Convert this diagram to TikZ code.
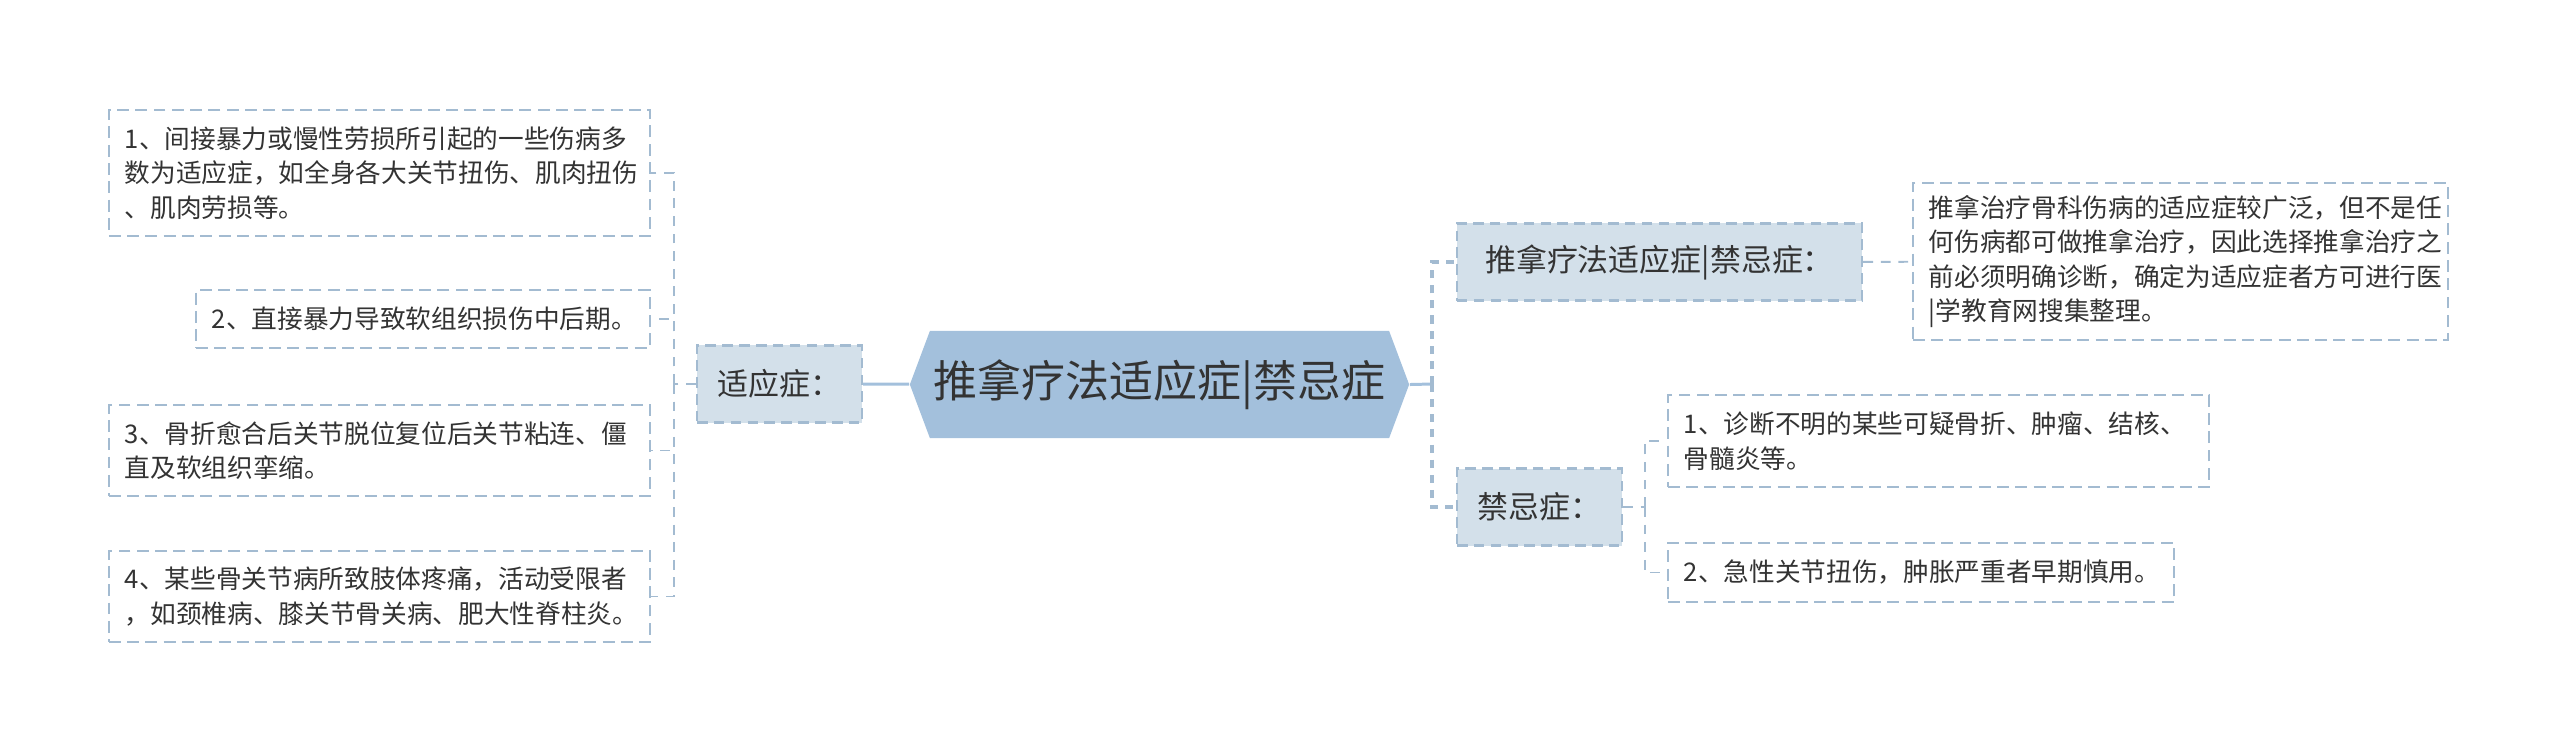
\documentclass[tikz,border=0pt]{standalone}
\usepackage{fontspec}
\setmainfont{Noto Sans CJK SC}
\usepackage{tikz}
\usetikzlibrary{shapes.symbols}
\definecolor{hexfill}{HTML}{A3C0DC}
\definecolor{boxfill}{HTML}{D3E0EA}
\definecolor{edge}{HTML}{A3BBD1}
\definecolor{txt}{HTML}{333333}

\begin{document}
\begin{tikzpicture}[x = 0.01cm, y = -0.01cm,
root/.style={signal, signal to=east and west, signal pointer angle=139, fill=hexfill, text=txt, inner sep=0pt, minimum width=4.99cm, minimum height=1.07cm, font=\fontsize{12.5}{15}\selectfont},
topic/.style={draw=edge, fill=boxfill, line width=0.6pt, dash pattern=on 3pt off 1.8pt, text=txt, minimum height=0.77cm, font=\fontsize{8.8}{10.5}\selectfont},
leaf/.style={draw=edge, line width=0.6pt, dash pattern=on 3.4pt off 1.8pt, text=txt, align=left, inner xsep=0.16cm, font=\fontsize{7.3}{9.8}\selectfont},
link/.style={hexfill, line width=0.85pt},
trunk/.style={edge, line width=1.1pt, dash pattern=on 2.3pt off 2pt},
branch/.style={edge, line width=0.55pt, dash pattern=on 2.8pt off 2.2pt}]
\useasboundingbox (0,0) rectangle (2560,753);
\node[root] (root) at (1159.5,384.5) {推拿疗法适应症|禁忌症};
\node[topic, minimum width=1.65cm] (adapt) at (779.5,384) {适应症：};
\node[topic, minimum width=4.05cm] (topA) at (1659.5,262) {推拿疗法适应症|禁忌症：};
\node[topic, minimum width=1.65cm] (jin) at (1539.5,507) {禁忌症：};
\node[leaf, text width=5.09cm, minimum height=1.26cm] (a1) at (379.5,173) {1、间接暴力或慢性劳损所引起的一些伤病多\\数为适应症，如全身各大关节扭伤、肌肉扭伤\\、肌肉劳损等。};
\node[leaf, text width=4.22cm, minimum height=0.58cm] (a2) at (423,319) {2、直接暴力导致软组织损伤中后期。};
\node[leaf, text width=5.09cm, minimum height=0.91cm] (a3) at (379.5,450.5) {3、骨折愈合后关节脱位复位后关节粘连、僵\\直及软组织挛缩。};
\node[leaf, text width=5.09cm, minimum height=0.91cm] (a4) at (379.5,596.5) {4、某些骨关节病所致肢体疼痛，活动受限者\\，如颈椎病、膝关节骨关病、肥大性脊柱炎。};
\node[leaf, text width=5.03cm, minimum height=1.57cm] (desc) at (2180.5,261.5) {推拿治疗骨科伤病的适应症较广泛，但不是任\\何伤病都可做推拿治疗，因此选择推拿治疗之\\前必须明确诊断，确定为适应症者方可进行医\\|学教育网搜集整理。};
\node[leaf, text width=5.09cm, minimum height=0.92cm] (d1) at (1938.5,441) {1、诊断不明的某些可疑骨折、肿瘤、结核、\\骨髓炎等。};
\node[leaf, text width=4.74cm, minimum height=0.59cm] (d2) at (1921,572.5) {2、急性关节扭伤，肿胀严重者早期慎用。};
\coordinate (lt) at (674,384);
\coordinate (rt) at (1432,384);
\coordinate (st) at (1645,507);
\draw[link] (adapt) -- (root);
\draw[link] (root.east) -- (rt);
\draw[branch] (adapt) -- (lt);
\draw[branch] (lt) |- (a1);
\draw[branch] (lt) |- (a2);
\draw[branch] (lt) |- (a3);
\draw[branch] (lt) |- (a4);
\draw[trunk] (rt) |- (topA);
\draw[trunk] (rt) |- (jin);
\draw[branch] (topA) -- (desc);
\draw[branch] (jin) -- (st);
\draw[branch] (st) |- (d1);
\draw[branch] (st) |- (d2);
\end{tikzpicture}
\end{document}
